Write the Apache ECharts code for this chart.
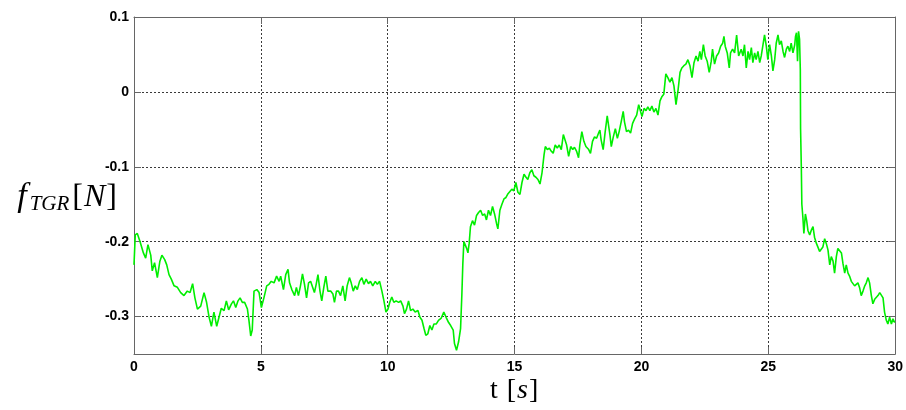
<!DOCTYPE html>
<html>
<head>
<meta charset="utf-8">
<script src="https://cdn.jsdelivr.net/npm/echarts@6/dist/echarts.min.js"></script>
<style>
html,body{margin:0;padding:0;background:#fff;}
#chart{width:906px;height:410px;}
</style>
</head>
<body>
<div id="chart"></div>
<script>
// Time [s] / force [N] samples, by phase
const phaseA = [[0,-0.231],[0.05,-0.191],[0.13,-0.189],[0.24,-0.200],[0.37,-0.215],[0.46,-0.222],[0.55,-0.204],[0.66,-0.218],[0.72,-0.239],[0.81,-0.228],[0.92,-0.248],[1.02,-0.226],[1.10,-0.218],[1.21,-0.224],[1.29,-0.231],[1.38,-0.244],[1.47,-0.250],[1.58,-0.259],[1.71,-0.261],[1.84,-0.268],[1.97,-0.272],[2.10,-0.266],[2.21,-0.268],[2.31,-0.256],[2.40,-0.275],[2.50,-0.290],[2.63,-0.286],[2.76,-0.268],[2.86,-0.281],[2.96,-0.301],[3.05,-0.313],[3.15,-0.294],[3.26,-0.313],[3.35,-0.301],[3.44,-0.289],[3.55,-0.292],[3.64,-0.279],[3.73,-0.291],[3.84,-0.283],[3.92,-0.279],[4.01,-0.288],[4.10,-0.279],[4.18,-0.275],[4.27,-0.281],[4.36,-0.281],[4.47,-0.290],[4.53,-0.305],[4.60,-0.326],[4.66,-0.318],[4.73,-0.266],[4.84,-0.264],[4.93,-0.268],[5.02,-0.288],[5.12,-0.275],[5.23,-0.259],[5.32,-0.257],[5.41,-0.253],[5.52,-0.255],[5.62,-0.246],[5.72,-0.253],[5.78,-0.246],[5.89,-0.264],[5.98,-0.244],[6.07,-0.237]];
const phaseB = [[6.13,-0.255],[6.22,-0.264],[6.33,-0.272],[6.40,-0.261],[6.48,-0.272],[6.56,-0.259],[6.64,-0.243],[6.72,-0.257],[6.80,-0.275],[6.88,-0.255],[6.96,-0.253],[7.04,-0.261],[7.11,-0.268],[7.18,-0.257],[7.25,-0.244],[7.33,-0.266],[7.40,-0.279],[7.48,-0.261],[7.56,-0.246],[7.64,-0.266],[7.75,-0.266],[7.84,-0.270],[7.90,-0.281],[7.98,-0.266],[8.06,-0.266],[8.14,-0.272],[8.23,-0.259],[8.32,-0.279],[8.40,-0.259],[8.49,-0.248],[8.56,-0.255],[8.64,-0.266],[8.72,-0.259],[8.80,-0.264],[8.89,-0.253],[8.98,-0.248],[9.06,-0.257],[9.15,-0.250],[9.24,-0.256],[9.32,-0.253],[9.41,-0.259],[9.51,-0.253],[9.59,-0.257],[9.68,-0.253],[9.77,-0.266],[9.85,-0.279],[9.93,-0.294],[10.01,-0.290],[10.08,-0.281],[10.16,-0.274],[10.24,-0.281],[10.33,-0.279],[10.43,-0.281],[10.51,-0.279],[10.60,-0.286],[10.66,-0.296],[10.74,-0.290],[10.82,-0.279],[10.90,-0.292],[10.99,-0.290],[11.08,-0.294],[11.19,-0.292],[11.27,-0.301],[11.35,-0.305],[11.43,-0.316],[11.50,-0.325],[11.58,-0.323],[11.66,-0.312],[11.74,-0.318],[11.82,-0.310],[11.91,-0.310],[12.00,-0.305]];
const phaseC = [[12.11,-0.302],[12.21,-0.294],[12.30,-0.301],[12.40,-0.308],[12.48,-0.312],[12.53,-0.310],[12.58,-0.318],[12.63,-0.336],[12.71,-0.345],[12.79,-0.334],[12.87,-0.316],[12.92,-0.272],[12.96,-0.229],[13.00,-0.200],[13.05,-0.198],[13.11,-0.209],[13.16,-0.215],[13.21,-0.202],[13.26,-0.180],[13.34,-0.172],[13.42,-0.178],[13.50,-0.165],[13.58,-0.161],[13.66,-0.158],[13.74,-0.165],[13.82,-0.163],[13.89,-0.171],[13.97,-0.158],[14.05,-0.165],[14.13,-0.153],[14.21,-0.163],[14.29,-0.176],[14.34,-0.183],[14.42,-0.158],[14.50,-0.150],[14.58,-0.143],[14.66,-0.141],[14.74,-0.136],[14.81,-0.134],[14.89,-0.130],[14.97,-0.132],[15.05,-0.121],[15.13,-0.134],[15.21,-0.137],[15.29,-0.121],[15.37,-0.110],[15.45,-0.114],[15.52,-0.117],[15.60,-0.108],[15.68,-0.104],[15.76,-0.112],[15.84,-0.114],[15.92,-0.117],[16.00,-0.123],[16.08,-0.108],[16.16,-0.084],[16.21,-0.073],[16.29,-0.077],[16.37,-0.075],[16.44,-0.079],[16.52,-0.082],[16.60,-0.071],[16.68,-0.075],[16.76,-0.071],[16.84,-0.077],[16.92,-0.057],[16.97,-0.055],[17.05,-0.071],[17.13,-0.086],[17.21,-0.073],[17.29,-0.077],[17.36,-0.074],[17.44,-0.079],[17.52,-0.088],[17.57,-0.071],[17.65,-0.053],[17.73,-0.066],[17.81,-0.073],[17.92,-0.077]];
const phaseD = [[17.99,-0.082],[18.07,-0.066],[18.15,-0.060],[18.23,-0.062],[18.31,-0.055],[18.36,-0.051],[18.41,-0.064],[18.49,-0.077],[18.57,-0.053],[18.65,-0.032],[18.70,-0.044],[18.76,-0.058],[18.81,-0.073],[18.89,-0.060],[18.97,-0.049],[19.05,-0.062],[19.12,-0.053],[19.20,-0.040],[19.28,-0.026],[19.33,-0.040],[19.41,-0.053],[19.49,-0.051],[19.57,-0.055],[19.65,-0.042],[19.73,-0.036],[19.81,-0.031],[19.89,-0.017],[19.96,-0.019],[20.02,-0.033],[20.10,-0.022],[20.18,-0.025],[20.25,-0.020],[20.33,-0.025],[20.41,-0.019],[20.49,-0.027],[20.57,-0.022],[20.65,-0.031],[20.73,-0.012],[20.81,-0.006],[20.88,-0.003],[20.96,0.024],[21.04,0.019],[21.12,0.013],[21.20,0.019],[21.28,0.008],[21.36,-0.017],[21.44,0.002],[21.52,0.026],[21.59,0.032],[21.67,0.035],[21.75,0.037],[21.83,0.043],[21.91,0.035],[21.99,0.019],[22.07,0.039],[22.15,0.048],[22.23,0.041],[22.30,0.054],[22.36,0.043],[22.44,0.063],[22.51,0.048],[22.59,0.041],[22.67,0.026],[22.75,0.041],[22.80,0.057],[22.88,0.037],[22.96,0.048],[23.04,0.052],[23.12,0.061],[23.20,0.065],[23.25,0.074],[23.30,0.061],[23.38,0.052],[23.46,0.032],[23.51,0.052],[23.59,0.057],[23.67,0.052],[23.75,0.076],[23.83,0.048]];
const phaseE = [[23.93,0.057],[24.00,0.048],[24.06,0.063],[24.13,0.032],[24.20,0.054],[24.26,0.043],[24.33,0.059],[24.39,0.039],[24.46,0.052],[24.52,0.043],[24.59,0.054],[24.66,0.039],[24.72,0.048],[24.79,0.063],[24.85,0.076],[24.92,0.061],[24.98,0.043],[25.05,0.063],[25.12,0.048],[25.18,0.028],[25.25,0.043],[25.31,0.065],[25.38,0.076],[25.44,0.063],[25.51,0.068],[25.58,0.054],[25.64,0.046],[25.71,0.057],[25.77,0.061],[25.84,0.054],[25.90,0.065],[25.97,0.052],[26.04,0.063],[26.07,0.074],[26.11,0.079],[26.15,0.041],[26.19,0.081],[26.23,0.070],[26.26,0.030],[26.27,-0.049],[26.30,-0.101],[26.32,-0.150],[26.36,-0.167],[26.40,-0.189],[26.46,-0.163],[26.51,-0.172],[26.56,-0.185],[26.63,-0.191],[26.69,-0.185],[26.76,-0.180],[26.82,-0.194],[26.89,-0.202],[26.95,-0.207],[27.02,-0.213],[27.09,-0.215],[27.15,-0.207],[27.22,-0.196],[27.28,-0.202],[27.35,-0.211],[27.42,-0.231],[27.48,-0.220],[27.55,-0.226],[27.61,-0.242],[27.68,-0.220],[27.74,-0.209],[27.81,-0.211],[27.88,-0.215],[27.94,-0.229],[28.01,-0.242],[28.07,-0.231],[28.14,-0.242],[28.20,-0.246],[28.27,-0.253],[28.34,-0.255],[28.40,-0.259],[28.47,-0.257],[28.53,-0.255],[28.60,-0.262],[28.66,-0.272],[28.73,-0.266],[28.80,-0.259],[28.86,-0.255],[28.93,-0.248],[28.99,-0.255],[29.06,-0.272],[29.12,-0.283],[29.19,-0.277],[29.25,-0.279],[29.32,-0.272],[29.39,-0.268],[29.45,-0.268],[29.52,-0.275],[29.58,-0.294],[29.65,-0.305],[29.71,-0.310],[29.78,-0.301],[29.85,-0.310],[29.91,-0.303],[29.98,-0.308]];

const yTicks = [-0.3, -0.2, -0.1, 0, 0.1];
const xTicks = [0, 5, 10, 15, 20, 25, 30];

const signal = phaseA.concat(phaseB, phaseC, phaseD, phaseE);

const frameColor = '#666666';
const gridLine = { show: true, lineStyle: { color: '#3a3a3a', width: 1, type: [2, 2] } };
const tickFont = { fontFamily: 'Liberation Sans, Arial, sans-serif', fontWeight: 'bold', fontSize: 14, color: '#000' };
const serif = 'Liberation Serif, Times New Roman, serif';

const chart = echarts.init(document.getElementById('chart'), null, { renderer: 'canvas' });
chart.setOption({
  animation: false,
  backgroundColor: '#ffffff',
  grid: { left: 134, right: 10, top: 17, bottom: 51, containLabel: false },
  xAxis: [
    {
      type: 'value', position: 'bottom', min: 0, max: 30, interval: 5,
      axisLine: { show: true, onZero: false, lineStyle: { color: frameColor, width: 1 } },
      axisTick: { show: true, inside: true, length: 7, lineStyle: { color: frameColor } },
      axisLabel: Object.assign({ margin: 6 }, tickFont),
      splitLine: gridLine,
      name: '{t|t}{r|[}{i|s}{r|]}',
      nameLocation: 'middle', nameGap: 23, nameMoveOverlap: false,
      nameTextStyle: {
        rich: {
          t: { fontFamily: serif, fontSize: 28, color: '#000', padding: [0, 8, 0, 0] },
          r: { fontFamily: serif, fontSize: 28, color: '#000', padding: [0, 1, 0, 1] },
          i: { fontFamily: serif, fontStyle: 'italic', fontSize: 28, color: '#000' }
        }
      }
    },
    {
      type: 'value', position: 'top', min: 0, max: 30, interval: 5,
      axisLine: { show: true, onZero: false, lineStyle: { color: frameColor, width: 1 } },
      axisTick: { show: true, inside: true, length: 7, lineStyle: { color: frameColor } },
      axisLabel: { show: false },
      splitLine: { show: false }
    }
  ],
  yAxis: [
    {
      type: 'value', position: 'left', min: -0.35, max: 0.1,
      axisLine: { show: true, onZero: false, lineStyle: { color: frameColor, width: 1 } },
      axisTick: { show: true, inside: true, length: 7, lineStyle: { color: frameColor }, customValues: yTicks },
      axisLabel: Object.assign({ margin: 5, customValues: yTicks,
        formatter: v => (Math.abs(v) < 1e-9 ? '0' : v.toFixed(1)) }, tickFont),
      splitLine: gridLine,
      name: '{f|f}{s|TGR}{r|[}{i|N}{r|]}',
      nameLocation: 'middle', nameRotate: 0, nameGap: 16, nameMoveOverlap: false,
      nameTextStyle: {
        padding: [24, 0, 0, 0],
        rich: {
          f: { fontFamily: serif, fontStyle: 'italic', fontSize: 34, color: '#000' },
          s: { fontFamily: serif, fontStyle: 'italic', fontSize: 21, color: '#000', verticalAlign: 'bottom', padding: [8, 2, 0, 3] },
          r: { fontFamily: serif, fontSize: 32, color: '#000', padding: [0, 1, 0, 1] },
          i: { fontFamily: serif, fontStyle: 'italic', fontSize: 32, color: '#000' }
        }
      }
    },
    {
      type: 'value', position: 'right', min: -0.35, max: 0.1,
      axisLine: { show: true, onZero: false, lineStyle: { color: frameColor, width: 1 } },
      axisTick: { show: true, inside: true, length: 7, lineStyle: { color: frameColor }, customValues: yTicks },
      axisLabel: { show: false },
      splitLine: { show: false }
    }
  ],
  series: [
    {
      type: 'line', xAxisIndex: 0, yAxisIndex: 0,
      data: signal, showSymbol: false, symbol: 'none',
      lineStyle: { color: '#00ee00', width: 1.6 },
      z: 5
    }
  ]
});
</script>
</body>
</html>
